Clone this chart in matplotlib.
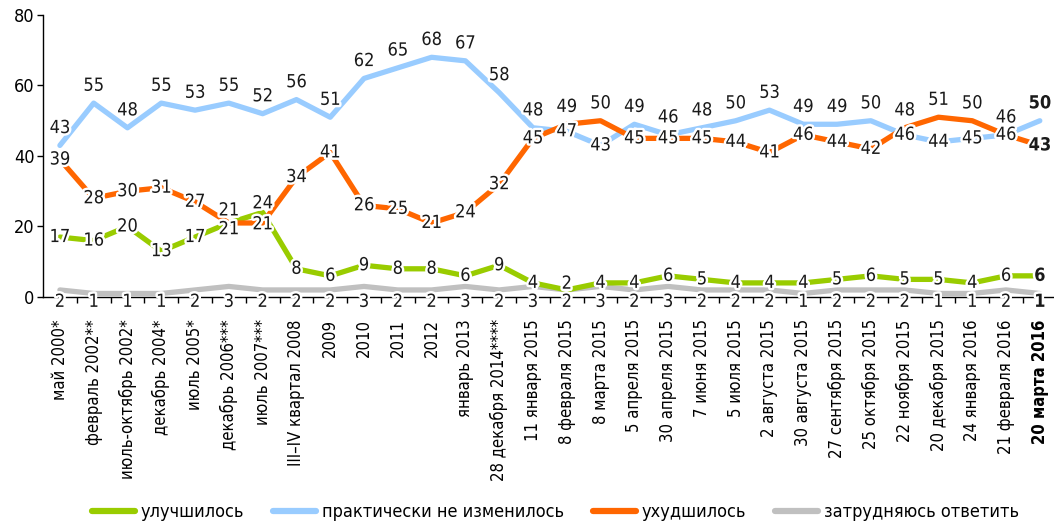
import matplotlib
matplotlib.use("Agg")
import matplotlib.pyplot as plt
import matplotlib.patheffects as pe
from matplotlib.ticker import FixedLocator, NullFormatter

plt.rcParams['font.family'] = ['DejaVu Sans']
plt.rcParams['font.stretch'] = 'condensed'

categories = [
    "май 2000*", "февраль 2002**", "июль-октябрь 2002*", "декабрь 2004*",
    "июль 2005*", "декабрь 2006***", "июль 2007***", "III–IV квартал 2008",
    "2009", "2010", "2011", "2012", "январь 2013", "28 декабря 2014****",
    "11 января 2015", "8 февраля 2015", "8 марта 2015", "5 апреля 2015",
    "30 апреля 2015", "7 июня 2015", "5 июля 2015", "2 августа 2015",
    "30 августа 2015", "27 сентября 2015", "25 октября 2015", "22 ноября 2015",
    "20 декабря 2015", "24 января 2016", "21 февраля 2016", "20 марта 2016",
]

improved = [17, 16, 20, 13, 17, 21, 24, 8, 6, 9, 8, 8, 6, 9, 4,
            2, 4, 4, 6, 5, 4, 4, 4, 5, 6, 5, 5, 4, 6, 6]
unchanged = [43, 55, 48, 55, 53, 55, 52, 56, 51, 62, 65, 68, 67, 58, 48,
             47, 43, 49, 46, 48, 50, 53, 49, 49, 50, 46, 44, 45, 46, 50]
worsened = [39, 28, 30, 31, 27, 21, 21, 34, 41, 26, 25, 21, 24, 32, 45,
            49, 50, 45, 45, 45, 44, 41, 46, 44, 42, 48, 51, 50, 46, 43]
no_answer = [2, 1, 1, 1, 2, 3, 2, 2, 2, 3, 2, 2, 3, 2, 3,
             2, 3, 2, 3, 2, 2, 2, 1, 2, 2, 2, 1, 1, 2, 1]

series_names = ["улучшилось", "практически не изменилось", "ухудшилось",
                "затрудняюсь ответить"]

GREEN = "#99CC00"
BLUE = "#99CCFF"
ORANGE = "#FF6600"
GRAY = "#C0C0C0"

FS = 13
TICK_FS = 12
LW = 3.8

fig = plt.figure(figsize=(10.54, 5.24), dpi=100)
ax = fig.add_axes([0.0408, 0.4332, 0.9592, 0.5382])

x = list(range(len(categories)))
n = len(x)

l_gray, = ax.plot(x, no_answer, color=GRAY, lw=LW, solid_capstyle='round',
                  solid_joinstyle='round', zorder=2)
l_blue, = ax.plot(x, unchanged, color=BLUE, lw=LW, solid_capstyle='round',
                  solid_joinstyle='round', zorder=3)
l_green, = ax.plot(x, improved, color=GREEN, lw=LW, solid_capstyle='round',
                   solid_joinstyle='round', zorder=4)
l_orange, = ax.plot(x, worsened, color=ORANGE, lw=LW, solid_capstyle='round',
                    solid_joinstyle='round', zorder=5)

halo = [pe.withStroke(linewidth=3.5, foreground='white')]


def put(xi, yi, text, dy, bold):
    ax.annotate(text, (xi, yi), xytext=(0, dy), textcoords='offset points',
                ha='center', va='center', fontsize=FS,
                fontweight='bold' if bold else 'normal',
                color='#1a1a1a', path_effects=halo, zorder=10,
                annotation_clip=False)


def green_dy(v):
    # very low values are lifted clear of the labels on the axis
    return 4.5 if v <= 2 else 0


for i in x:
    last = (i == n - 1)
    g, b, o = improved[i], unchanged[i], worsened[i]
    # the higher of the two main series gets its label above the line
    if o >= b:
        put(i, o, str(o), 12.5, last)
        put(i, b, str(b), 0, last)
        put(i, g, str(g), green_dy(g), last)
        continue
    put(i, b, str(b), 12.5, last)
    # green and orange labels that would overlap are pushed apart
    if abs(g - o) <= 4:
        if o >= g:
            put(i, o, str(o), 9, last)
            put(i, g, str(g), -4.5, last)
        else:
            put(i, g, str(g), 6.5, last)
            put(i, o, str(o), -1, last)
        continue
    put(i, o, str(o), 0, last)
    put(i, g, str(g), green_dy(g), last)

# "hard to answer" values sit on the category axis
for i in x:
    ax.annotate(str(no_answer[i]), (i, 0), xytext=(0, -3.5),
                textcoords='offset points', ha='center', va='center',
                fontsize=FS, fontweight='bold' if i == n - 1 else 'normal',
                color='#1a1a1a', path_effects=halo, zorder=10,
                annotation_clip=False)

ax.set_xlim(-0.5, n - 0.58)
ax.set_ylim(0, 80)
ax.set_yticks([0, 20, 40, 60, 80])
ax.tick_params(axis='y', labelsize=FS, length=4, width=1, direction='out', pad=2)

ax.set_xticks(x)
ax.set_xticklabels(categories, rotation=90, fontsize=TICK_FS)
ax.tick_params(axis='x', which='major', length=0, pad=16)
ax.xaxis.set_minor_locator(FixedLocator([i + 0.5 for i in x[:-1]]))
ax.xaxis.set_minor_formatter(NullFormatter())
ax.tick_params(axis='x', which='minor', length=4, width=1, direction='out')
ax.get_xticklabels()[-1].set_fontweight('bold')

for s in ['top', 'right']:
    ax.spines[s].set_visible(False)
for s in ['left', 'bottom']:
    ax.spines[s].set_linewidth(1)
    ax.spines[s].set_color('black')

handles = [l_green, l_blue, l_orange, l_gray]
leg = fig.legend(handles, series_names, loc='center',
                 bbox_to_anchor=(0.527, 0.023), ncol=4, frameon=False,
                 fontsize=FS, handlelength=2.4, handletextpad=0.3,
                 columnspacing=1.6)
for h in leg.legend_handles:
    h.set_linewidth(4.5)

fig.savefig("out.png", dpi=100)
